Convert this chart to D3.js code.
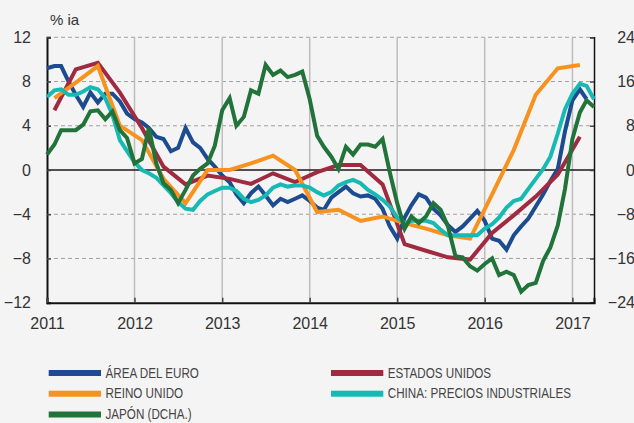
<!DOCTYPE html>
<html>
<head>
<meta charset="utf-8">
<script src="https://cdn.jsdelivr.net/npm/d3@7"></script>
<style>
  html, body { margin: 0; padding: 0; background: #f4f4f4; }
  svg { display: block; font-family: "Liberation Sans", Arial, sans-serif; }
</style>
</head>
<body>
<div id="chart"></div>
<script>
// monthly series start Jan 2011, quarterly series sit on the middle month of each quarter
var euroArea = [
  9.2, 9.4, 9.4, 8.0, 6.8, 5.7, 7.0, 6.1, 6.9, 6.9, 6.2, 5.1,
  4.6, 4.3, 3.8, 3.0, 2.8, 1.7, 2.0, 3.8, 2.5, 2.0, 1.0, 0.3,
  -0.5, -1.1, -2.2, -3.0, -2.1, -1.5, -2.3, -3.2, -2.6, -2.9, -2.6, -2.3,
  -2.8, -3.4, -3.6, -2.5, -2.0, -1.5, -2.1, -2.4, -2.3, -2.6, -3.5, -5.1,
  -6.2, -4.3, -3.2, -2.2, -2.5, -3.5, -4.1, -5.0, -5.6, -5.1, -4.4, -3.7,
  -4.6, -6.2, -6.4, -7.2, -5.9, -5.1, -4.4, -3.3, -2.2, -1.0, 0.1, 3.5,
  6.3, 7.3, 6.4
];
var estadosUnidos = [
  5.4, 9.1, 9.7, 7.0, 3.8, 0.3, -1.3, -0.5, -0.8, -1.25, -0.3, -1.1,
  -0.2, 0.45, 0.45, -1.3, -6.7, -7.3, -7.9, -8.1, -5.7, -4.1, -2.4, -0.4, 3.0
];
var reinoUnido = [
  6.5, 7.9, 9.4, 4.0, 2.7, -0.8, -3.0, 0.0, 0.0, 0.6, 1.3, 0.0,
  -3.8, -3.6, -4.6, -4.2, -4.8, -5.3, -5.9, -6.2, -2.2, 1.8, 6.8, 9.2, 9.5
];
var china = [
  6.6, 7.2, 7.3, 6.8, 6.8, 7.1, 7.5, 7.3, 6.5, 5.0, 2.7, 1.7,
  0.7, 0.0, -0.3, -0.7, -1.4, -2.1, -2.9, -3.5, -3.6, -2.8, -2.2, -1.9,
  -1.6, -1.6, -1.9, -2.6, -2.9, -2.7, -2.3, -1.6, -1.3, -1.5, -1.4, -1.4,
  -1.6, -2.0, -2.3, -2.0, -1.4, -1.1, -0.9, -1.2, -1.8, -2.2, -2.7, -3.3,
  -4.3, -4.8, -4.6, -4.6, -4.6, -4.8, -5.4, -5.9, -5.9, -5.9, -5.9, -5.9,
  -5.3, -4.9, -4.3, -3.4, -2.8, -2.6, -1.7, -0.8, 0.1, 1.2, 3.3, 5.5,
  6.9, 7.8, 7.6, 6.4
];
// Japan is read on the right axis
var japon = [
  2.8, 4.6, 7.2, 7.2, 7.2, 8.2, 10.6, 10.8, 9.2, 10.6, 7.2, 5.8,
  1.2, 2.0, 7.6, 1.2, -2.4, -3.6, -6.0, -3.6, -1.0, 0.2, 1.2, 4.4,
  10.8, 13.0, 8.0, 9.6, 14.4, 13.8, 19.0, 17.2, 18.0, 16.8, 17.2, 17.8,
  12.8, 6.2, 4.2, 2.4, 0.2, 4.2, 2.8, 4.6, 4.6, 4.2, 5.6, -0.4,
  -6.0, -10.6, -8.4, -9.6, -8.4, -6.0, -7.2, -10.2, -15.6, -15.8, -17.4, -18.2,
  -17.0, -16.0, -19.0, -18.4, -19.0, -22.0, -20.8, -20.4, -16.4, -14.0, -10.0, -3.4,
  5.6, 10.4, 12.6, 11.4
];

var leftTicks = [-12, -8, -4, 0, 4, 8, 12];
var rightTicks = [-24, -16, -8, 0, 8, 16, 24];
var unitLabel = "% ia";

var series = [
  { name: "ÁREA DEL EURO", values: euroArea, freq: "m", axis: "l", color: "#1d4b8f" },
  { name: "ESTADOS UNIDOS", values: estadosUnidos, freq: "q", axis: "l", color: "#a02a40" },
  { name: "REINO UNIDO", values: reinoUnido, freq: "q", axis: "l", color: "#f7921f" },
  { name: "CHINA: PRECIOS INDUSTRIALES", values: china, freq: "m", axis: "l", color: "#16bab3" },
  { name: "JAPÓN (DCHA.)", values: japon, freq: "m", axis: "r", color: "#22733a" }
];
var drawOrder = [0, 1, 2, 3, 4];
var legendOrder = [0, 1, 2, 3, 4];

var W = 634, H = 423;
var m = { left: 47, right: 594, top: 37.3, bottom: 302.7 };

var svg = d3.select("#chart").append("svg").attr("width", W).attr("height", H);
svg.append("rect").attr("width", W).attr("height", H).attr("fill", "#f4f4f4");

var x = d3.scaleTime()
  .domain([new Date(2011, 0, 1), new Date(2017, 3, 1)])
  .range([m.left, m.right]);
var yL = d3.scaleLinear().domain([-12, 12]).range([m.bottom, m.top]);
var yR = d3.scaleLinear().domain([-24, 24]).range([m.bottom, m.top]);

// dashed horizontal grid
svg.append("g")
  .selectAll("line")
  .data(leftTicks.filter(function(d) { return d !== 0 && d !== -12; }))
  .enter().append("line")
  .attr("x1", m.left).attr("x2", m.right)
  .attr("y1", function(d) { return yL(d); })
  .attr("y2", function(d) { return yL(d); })
  .attr("stroke", "#a0a0a0")
  .attr("stroke-width", 1)
  .attr("stroke-dasharray", "4,3");

// vertical year grid
var years = x.ticks(d3.timeYear.every(1));
svg.append("g")
  .selectAll("line")
  .data(years.slice(1))
  .enter().append("line")
  .attr("x1", function(d) { return x(d); })
  .attr("x2", function(d) { return x(d); })
  .attr("y1", m.top).attr("y2", m.bottom)
  .attr("stroke", "#bdbdbd")
  .attr("stroke-width", 1.5);

// zero line
svg.append("line")
  .attr("x1", m.left).attr("x2", m.right)
  .attr("y1", yL(0)).attr("y2", yL(0))
  .attr("stroke", "#1a1a1a").attr("stroke-width", 1.5);

// axes
var axL = svg.append("g")
  .attr("transform", "translate(" + m.left + ",0)")
  .call(d3.axisLeft(yL).tickValues(leftTicks).tickSize(-4).tickPadding(16));
var axR = svg.append("g")
  .attr("transform", "translate(" + m.right + ",0)")
  .call(d3.axisRight(yR).tickValues(rightTicks).tickSize(-4).tickPadding(41));
axR.selectAll("text").attr("text-anchor", "end");
var axB = svg.append("g")
  .attr("transform", "translate(0," + m.bottom + ")")
  .call(d3.axisBottom(x).ticks(d3.timeYear.every(1)).tickFormat(d3.timeFormat("%Y"))
    .tickSize(-5).tickPadding(15));

[axL, axR, axB].forEach(function(a) {
  a.select(".domain").attr("stroke", "#111").attr("stroke-width", 2);
  a.selectAll(".tick line").attr("stroke", "#444").attr("stroke-width", 1.5);
  a.selectAll("text").attr("font-size", 16).attr("fill", "#333")
    .attr("font-family", "Liberation Sans, Arial, sans-serif");
});
axR.select(".domain").attr("stroke-width", 1.5);

svg.append("text")
  .attr("x", 50).attr("y", 24.5)
  .attr("font-size", 15).attr("fill", "#333")
  .text(unitLabel);

// lines
function dateOf(s, i) {
  return s.freq === "m" ? new Date(2011, i, 1) : new Date(2011, 1 + 3 * i, 1);
}
var plot = svg.append("g");
drawOrder.forEach(function(k) {
  var s = series[k];
  var yy = s.axis === "l" ? yL : yR;
  var line = d3.line()
    .x(function(d, i) { return x(dateOf(s, i)); })
    .y(function(d) { return yy(d); });
  plot.append("path")
    .datum(s.values)
    .attr("fill", "none")
    .attr("stroke", s.color)
    .attr("stroke-width", 4)
    .attr("stroke-linejoin", "miter")
    .attr("stroke-miterlimit", 3)
    .attr("d", line);
});

// legend
var legend = svg.append("g");
var legX = [48.7, 331], legY = [373, 393.7, 414.5];
var items = legend.selectAll("g")
  .data(legendOrder.map(function(k) { return series[k]; }))
  .enter().append("g")
  .attr("transform", function(d, i) {
    return "translate(" + legX[i % 2] + "," + legY[Math.floor(i / 2)] + ")";
  });
items.append("rect")
  .attr("x", 0).attr("y", -3).attr("width", 52.3).attr("height", 6)
  .attr("fill", function(d) { return d.color; });
var labels = items.append("text")
  .attr("font-family", "Liberation Sans Narrow, Arial Narrow, Liberation Sans, sans-serif")
  .attr("font-size", 15)
  .attr("fill", "#454545")
  .text(function(d) { return d.name; });
// the original uses a condensed face: fit the first label to its width
var w0 = labels.node().getComputedTextLength();
var sx = w0 > 0 ? 93.5 / w0 : 1;
labels.attr("transform", "translate(56.8,4.5) scale(" + sx + ",1)");
</script>
</body>
</html>
